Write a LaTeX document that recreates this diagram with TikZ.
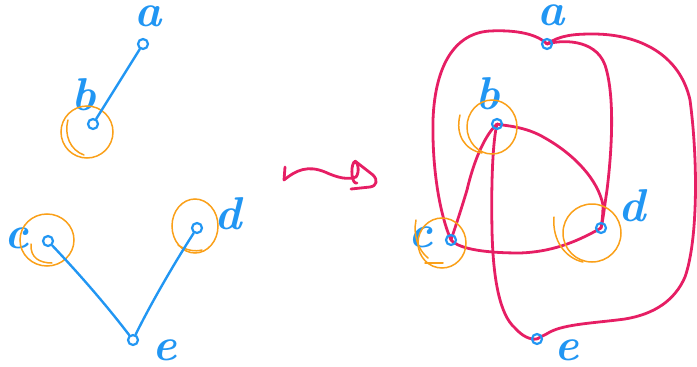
\documentclass[tikz,border=0pt]{standalone}
\usetikzlibrary{backgrounds}
\definecolor{inkblue}{RGB}{33,150,243}
\definecolor{inkorange}{RGB}{250,160,25}
\definecolor{inkred}{RGB}{230,30,100}
\tikzset{
  vtx/.style={circle, draw=inkblue, line width=2.2pt, inner sep=0pt, minimum size=10pt},
  lbl/.style={text=inkblue, inner sep=0pt, font=\fontsize{46}{46}\selectfont\bfseries\itshape},
  blueedge/.style={draw=inkblue, line width=2.4pt, line cap=round},
  rededge/.style={draw=inkred, line width=2.8pt, line cap=round, line join=round},
  ring/.style={draw=inkorange, line width=1.5pt, line cap=round}
}
\begin{document}
\begin{tikzpicture}[x=1pt,y=-1pt]
\useasboundingbox (0,0) rectangle (697,367);

% ---------- left graph ----------
\node[vtx] (la) at (143,44) {};
\node[vtx] (lb) at (93,124) {};
\node[vtx] (lc) at (48,241) {};
\node[vtx] (ld) at (197,228) {};
\node[vtx] (le) at (133,340) {};

\node[lbl] (tla) at (148,16) {a};
\node[lbl] (tlb) at (84,95) {b};
\node[lbl] (tlc) at (17,238) {c};
\node[lbl] (tld) at (228,214) {d};
\node[lbl] (tle) at (165,350) {e};

% rings around the marked vertices
\draw[ring] (87,132) ellipse (26 and 26);
\draw[ring] (68,120) .. controls (64,135) and (70,150) .. (84,155);
\draw[ring] (47,240) ellipse (27 and 26);
\draw[ring] (31,244) .. controls (30,258) and (40,263) .. (52,263);
\draw[ring] (195,226) ellipse (23 and 27);
\draw[ring] (178,245) .. controls (185,250) and (195,252) .. (202,250);

\draw[blueedge] (la) -- (lb);
\draw[blueedge] (lc) .. controls (85,280) and (110,310) .. (le);
\draw[blueedge] (ld) .. controls (175,262) and (150,305) .. (le);

% ---------- squiggly arrow ----------
\draw[rededge] (285,167) -- (284,180)
  .. controls (296,170) and (308,165) .. (325,172)
  .. controls (338,178) and (348,180) .. (356,177)
  .. controls (360,172) and (358,160) .. (354,162)
  .. controls (350,168) and (352,185) .. (357,183);
\draw[rededge] (355,161) -- (373,175)
  .. controls (378,180) and (377,186) .. (370,187) -- (351,189);

% ---------- right graph ----------
\node[vtx] (ra) at (547,44) {};
\node[vtx] (rb) at (497,124) {};
\node[vtx] (rc) at (451,240) {};
\node[vtx] (rd) at (601,228) {};
\node[vtx] (re) at (537,339) {};

\node[lbl] (tra) at (551,15) {a};
\node[lbl] (trb) at (488,94) {b};
\node[lbl] (trc) at (421,237) {c};
\node[lbl] (trd) at (632,206) {d};
\node[lbl] (tre) at (567,350) {e};

\draw[ring] (492,127) ellipse (25 and 27);
\draw[ring] (460,115) .. controls (455,135) and (465,150) .. (482,153);
\draw[ring] (442,243) ellipse (24 and 25);
\draw[ring] (416,220) .. controls (413,235) and (418,250) .. (428,258);
\draw[ring] (425,263) -- (443,263);
\draw[ring] (592,233) ellipse (29 and 29);
\draw[ring] (554,217) .. controls (552,240) and (565,258) .. (583,262);

\begin{scope}[on background layer]
  \draw[rededge] (ra.center) .. controls (535,32) and (510,30) .. (490,31)
    .. controls (455,33) and (435,65) .. (433,120)
    .. controls (432,170) and (440,215) .. (rc.center);
  \draw[rededge] (ra.center) .. controls (560,40) and (595,38) .. (605,65)
    .. controls (615,95) and (612,150) .. (607,190)
    .. controls (604,210) and (603,220) .. (rd.center);
  \draw[rededge] (ra.center) .. controls (560,35) and (575,34) .. (593,34)
    .. controls (640,34) and (680,55) .. (690,100)
    .. controls (698,160) and (698,240) .. (685,277)
    .. controls (675,300) and (655,314) .. (625,319)
    .. controls (595,323) and (565,324) .. (550,332)
    .. controls (545,335) and (540,337) .. (re.center);
  \draw[rededge] (rb.center) .. controls (485,135) and (474,160) .. (467,190)
    .. controls (461,210) and (455,228) .. (rc.center);
  \draw[rededge] (rb.center) .. controls (493,140) and (491,180) .. (492,230)
    .. controls (493,280) and (500,315) .. (515,328)
    .. controls (522,336) and (530,340) .. (re.center);
  \draw[rededge] (rb.center) .. controls (505,126) and (525,126) .. (545,138)
    .. controls (575,155) and (598,180) .. (603,205)
    .. controls (603,215) and (602,222) .. (rd.center);
  \draw[rededge] (rc.center) .. controls (460,250) and (490,253) .. (520,253)
    .. controls (550,252) and (575,243) .. (rd.center);
\end{scope}
\end{tikzpicture}
\end{document}
